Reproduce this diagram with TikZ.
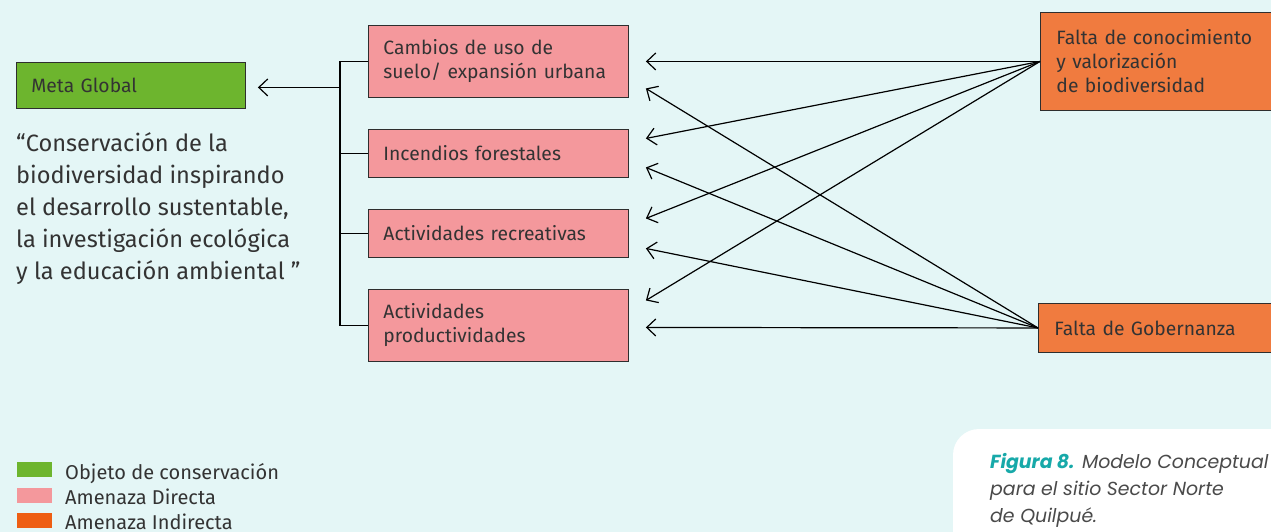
\documentclass[tikz,border=0pt]{standalone}
\usepackage{fontspec}
\setmainfont{Fira Sans}
\newfontfamily\capfont{Poppins}
\usetikzlibrary{arrows.meta,calc}
\definecolor{bg}{HTML}{E4F6F6}
\definecolor{goalgreen}{HTML}{6DB52E}
\definecolor{directpink}{HTML}{F4989C}
\definecolor{indorange}{HTML}{F07B3F}
\definecolor{legorange}{HTML}{EE5E13}
\definecolor{capteal}{HTML}{17A9A9}
\definecolor{txt}{HTML}{333333}
\definecolor{captxt}{HTML}{4A4A4A}
\begin{document}
\begin{tikzpicture}[x=1pt,y=-1pt,
  box/.style={draw=txt!90!black, line width=0.9pt, rectangle, align=left,
    inner ysep=0pt, text=txt, font=\fontsize{19.3}{24}\selectfont},
  goalbox/.style={box, fill=goalgreen, minimum width=229pt, text width=199pt, inner xsep=15pt, minimum height=46pt},
  directbox/.style={box, fill=directpink, minimum width=260pt, text width=230pt, inner xsep=15pt},
  indbox/.style={box, fill=indorange, minimum width=245pt, text width=213pt, inner xsep=16pt},
  conn/.style={draw=black, line width=1.2pt},
  arr/.style={conn, -{Straight Barb[length=9pt,width=17pt,line width=1.2pt]}},
  legsq/.style={rectangle, inner sep=0pt, minimum width=35pt, minimum height=15pt},
  legtext/.style={anchor=base west, inner sep=0pt, text=txt, font=\fontsize{20}{24}\selectfont}
]
\fill[bg] (0,0) rectangle (1271,532);
\useasboundingbox (0,0) rectangle (1271,532);

% goal
\node[goalbox, anchor=north west] (meta) at (16,62) {Meta Global};
\node[anchor=north west, inner sep=0pt, align=left, text=txt,
  font=\fontsize{23.6}{32}\selectfont] (quote) at (16,132)
  {“Conservación de la\\ biodiversidad inspirando\\ el desarrollo sustentable,\\ la investigación ecológica\\ y la educación ambiental ”};

% direct threats
\node[directbox, anchor=north west, minimum height=72pt] (c1) at (368,25) {Cambios de uso de\\ suelo/ expansión urbana};
\node[directbox, anchor=north west, minimum height=48pt] (c2) at (368,129) {Incendios forestales};
\node[directbox, anchor=north west, minimum height=48pt] (c3) at (368,209) {Actividades recreativas};
\node[directbox, anchor=north west, minimum height=72pt] (c4) at (368,289) {Actividades\\ productividades};

% indirect threats
\node[indbox, anchor=north west, minimum height=98pt] (f1) at (1040,12) {Falta de conocimiento\\ y valorización\\ de biodiversidad};
\node[indbox, anchor=north west, minimum height=49pt] (f2) at (1038,303) {Falta de Gobernanza};

% bracket
\coordinate (bx) at (340,0);
\draw[conn] (c1.west) -- (c1.west -| bx) -- (c4.west -| bx) -- (c4.west);
\draw[conn] (c2.west) -- (c2.west -| bx);
\draw[conn] (c3.west) -- (c3.west -| bx);
\draw[arr, shorten >=12pt] ($(meta.east -| bx)+(0,2)$) -- ($(meta.east)+(0,2)$);

% arrow targets
\coordinate (t1a) at ($(c1.east)+(17,0)$);
\coordinate (t1b) at ($(c1.east)+(17,27)$);
\coordinate (t2a) at ($(c2.east)+(17,-15)$);
\coordinate (t2b) at ($(c2.east)+(17,14)$);
\coordinate (t3a) at ($(c3.east)+(17,-15)$);
\coordinate (t3b) at ($(c3.east)+(17,15)$);
\coordinate (t4a) at ($(c4.east)+(17,-25)$);
\coordinate (t4b) at ($(c4.east)+(17,2)$);

\foreach \t in {t1a,t2a,t3a,t4a} \draw[arr] (f1.west) -- (\t);
\foreach \t in {t1b,t2b,t3b,t4b} \draw[arr] (f2.west) -- (\t);

% legend
\node[legsq, fill=goalgreen, anchor=north west] (lg1) at (17,462) {};
\node[legsq, fill=directpink, anchor=north west] (lg2) at (17,488) {};
\node[legsq, fill=legorange, anchor=north west] (lg3) at (17,513) {};
\node[legtext] (lt1) at (65,479) {Objeto de conservación};
\node[legtext] (lt2) at (65,504.5) {Amenaza Directa};
\node[legtext] (lt3) at (65,529) {Amenaza Indirecta};

% caption
\fill[white, rounded corners=26pt] (953,429) rectangle (1320,600);
\node[anchor=north west, inner sep=0pt, align=left, text=captxt,
  font=\capfont\itshape\fontsize{18.9}{27.2}\selectfont] (cap) at (990,453)
  {{\color{capteal}\bfseries Figura 8.} Modelo Conceptual\\ para el sitio Sector Norte\\ de Quilpué.};
\end{tikzpicture}
\end{document}
